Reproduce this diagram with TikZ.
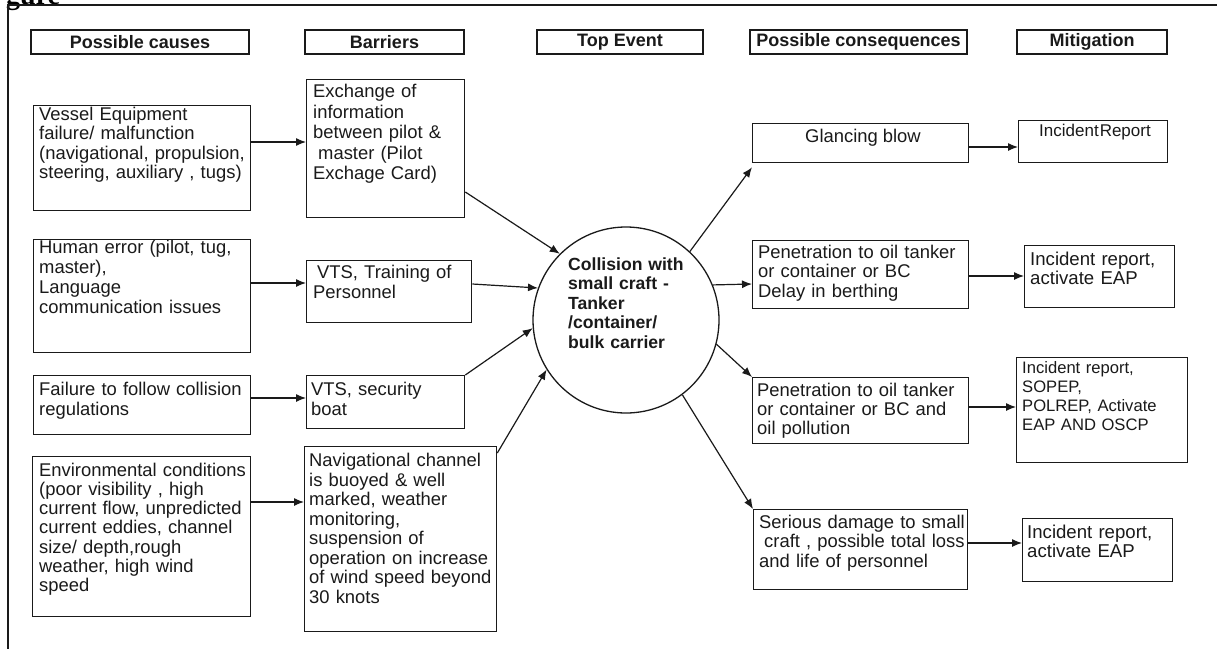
\documentclass[tikz,border=0pt]{standalone}
\usepackage{fontspec}
\setmainfont{Liberation Sans}
\newfontfamily\titleserif{Liberation Serif}
\usetikzlibrary{arrows.meta}

\definecolor{ink}{HTML}{1A1A1A}

\tikzset{
  frameline/.style={draw=ink, line width=2pt},
  headbox/.style={draw=ink, line width=2.2pt, inner sep=0pt, text=ink,
    font=\fontsize{18}{20}\selectfont\bfseries},
  panel/.style={draw=ink, line width=1.3pt, inner sep=0pt, anchor=north west},
  txt/.style={anchor=base west, inner sep=0pt, align=left, text width=260pt,
    text=ink, font=\fontsize{18.4}{#1}\selectfont},
  txt/.default=19.5,
  event/.style={draw=ink, line width=1.3pt, circle, inner sep=0pt,
    minimum size=186pt},
  arr/.style={draw=ink, line width=1.2pt, -{Latex[length=10pt,width=8pt]}},
}

% rectangular box given by name, left, top, right, bottom
\newcommand\mkpanel[5]{%
  \node[panel, minimum width={#4-#2}, minimum height={#5-#3}] (#1) at (#2,#3) {};}

\begin{document}
\begin{tikzpicture}[x=1pt, y=-1pt]
\useasboundingbox (0,0) rectangle (1217,648);
\clip (0,0) rectangle (1217,648);
\fill[white] (0,0) rectangle (1217,648);

% caption remnant and outer frame
\node[anchor=base west, inner sep=0pt, text=black,
  font=\titleserif\fontsize{28}{30}\selectfont\bfseries] (cap) at (6,4) {gure};
\draw[frameline] (8,660) -- (8,5) -- (1230,5);

% column headings
\node[headbox, minimum width=218pt, minimum height=24pt] (h1) at (140,42) {Possible causes};
\node[headbox, minimum width=159pt, minimum height=24pt] (h2) at (384.5,42) {Barriers};
\node[headbox, minimum width=166pt, minimum height=24pt] (h3) at (620,42) {Top Event};
\node[headbox, minimum width=217pt, minimum height=24pt] (h4) at (858.5,42) {Possible consequences};
\node[headbox, minimum width=150pt, minimum height=24pt] (h5) at (1092,42) {Mitigation};

% causes
\mkpanel{c1}{33}{105}{250}{210}
\mkpanel{c2}{33}{239}{250}{352}
\mkpanel{c3}{33}{375}{250}{434}
\mkpanel{c4}{32}{456}{250}{616}
\node[txt] (c1t) at (39,120) {Vessel Equipment\\failure/ malfunction\\(navigational, propulsion,\\steering, auxiliary , tugs)};
\node[txt=20] (c2t) at (39,253) {Human error (pilot, tug,\\master),\\Language\\communication issues};
\node[txt=20] (c3t) at (39,395) {Failure to follow collision\\regulations};
\node[txt=19.3] (c4t) at (39,476) {Environmental conditions\\(poor visibility , high\\current flow, unpredicted\\current eddies, channel\\size/ depth,rough\\weather, high wind\\speed};

% barriers
\mkpanel{b1}{306}{79}{464}{217}
\mkpanel{b2}{306}{260}{471}{322}
\mkpanel{b3}{306}{375}{464}{428}
\mkpanel{b4}{304}{446}{496}{631}
\node[txt=20.5] (b1t) at (313,97.5) {Exchange of\\information\\between pilot \&\\\hspace*{5pt}master (Pilot\\Exchage Card)};
\node[txt=20.5] (b2t) at (313,278) {\hspace*{4pt}VTS, Training of\\Personnel};
\node[txt=20] (b3t) at (311,395) {VTS, security\\boat};
\node[txt] (b4t) at (309,466.5) {Navigational channel\\is buoyed \& well\\marked, weather\\monitoring,\\suspension of\\operation on increase\\of wind speed beyond\\30 knots};

% top event
\node[event] (ev) at (626,320) {};
\node[txt, font=\fontsize{17.6}{19.4}\selectfont\bfseries] (evt) at (568,270.5)
  {Collision with\\small craft -\\Tanker\\/container/\\bulk carrier};

% consequences
\mkpanel{q1}{752}{123}{968}{162}
\mkpanel{q2}{752}{240}{968}{308}
\mkpanel{q3}{752}{377}{968}{443}
\mkpanel{q4}{753}{509}{967}{589}
\node[anchor=base, inner sep=0pt, text=ink, font=\fontsize{18.4}{19.5}\selectfont] (q1t) at (863,142) {Glancing blow};
\node[txt] (q2t) at (758,258) {Penetration to oil tanker\\or container or BC\\Delay in berthing};
\node[txt=19] (q3t) at (757,396) {Penetration to oil tanker\\or container or BC and\\oil pollution};
\node[txt] (q4t) at (759,528) {Serious damage to small\\\hspace*{5pt}craft , possible total loss\\and life of personnel};

% mitigation
\mkpanel{m1}{1018}{120}{1167}{162}
\mkpanel{m2}{1024}{245}{1174}{307}
\mkpanel{m3}{1016}{357}{1187}{462}
\mkpanel{m4}{1022}{518}{1172}{581}
\node[anchor=base, inner sep=0pt, text=ink, font=\fontsize{17}{19}\selectfont] (m1t) at (1095,136.5) {Incident\kern1pt Report};
\node[txt, font=\fontsize{18.6}{19}\selectfont] (m2t) at (1030,265) {Incident report,\\activate EAP};
\node[txt, font=\fontsize{16.6}{19}\selectfont] (m3t) at (1022,373) {Incident report,\\SOPEP,\\POLREP, Activate\\EAP AND OSCP};
\node[txt, font=\fontsize{18.6}{19}\selectfont] (m4t) at (1027,538) {Incident report,\\activate EAP};

% causes to barriers
\draw[arr] (c1.east |- 0,142) -- (b1.west |- 0,142);
\draw[arr] (c2.east |- 0,283) -- (b2.west |- 0,283);
\draw[arr] (c3.east |- 0,398) -- (b3.west |- 0,398);
\draw[arr] (c4.east |- 0,502) -- (b4.west |- 0,502);

% barriers to top event
\draw[arr] (b1.east |- 0,192) -- (ev.135);
\draw[arr] (b2.east |- 0,284) -- (ev.160);
\draw[arr] (b3.north east) -- (ev.185);
\draw[arr] (b4.east |- 0,453) -- (ev.212);

% top event to consequences
\draw[arr] (ev.47) -- ([yshift=-4pt]q1.south west);
\draw[arr] (ev.22) -- (q2.west |- 0,284);
\draw[arr] (ev.-15) -- (q3.north west);
\draw[arr] (ev.-53) -- (q4.north west);

% consequences to mitigation
\draw[arr] (q1.east |- 0,147) -- (m1.west |- 0,147);
\draw[arr] (q2.east |- 0,276) -- (m2.west |- 0,276);
\draw[arr] (q3.east |- 0,407) -- (m3.west |- 0,407);
\draw[arr] (q4.east |- 0,543) -- (m4.west |- 0,543);
\end{tikzpicture}
\end{document}
